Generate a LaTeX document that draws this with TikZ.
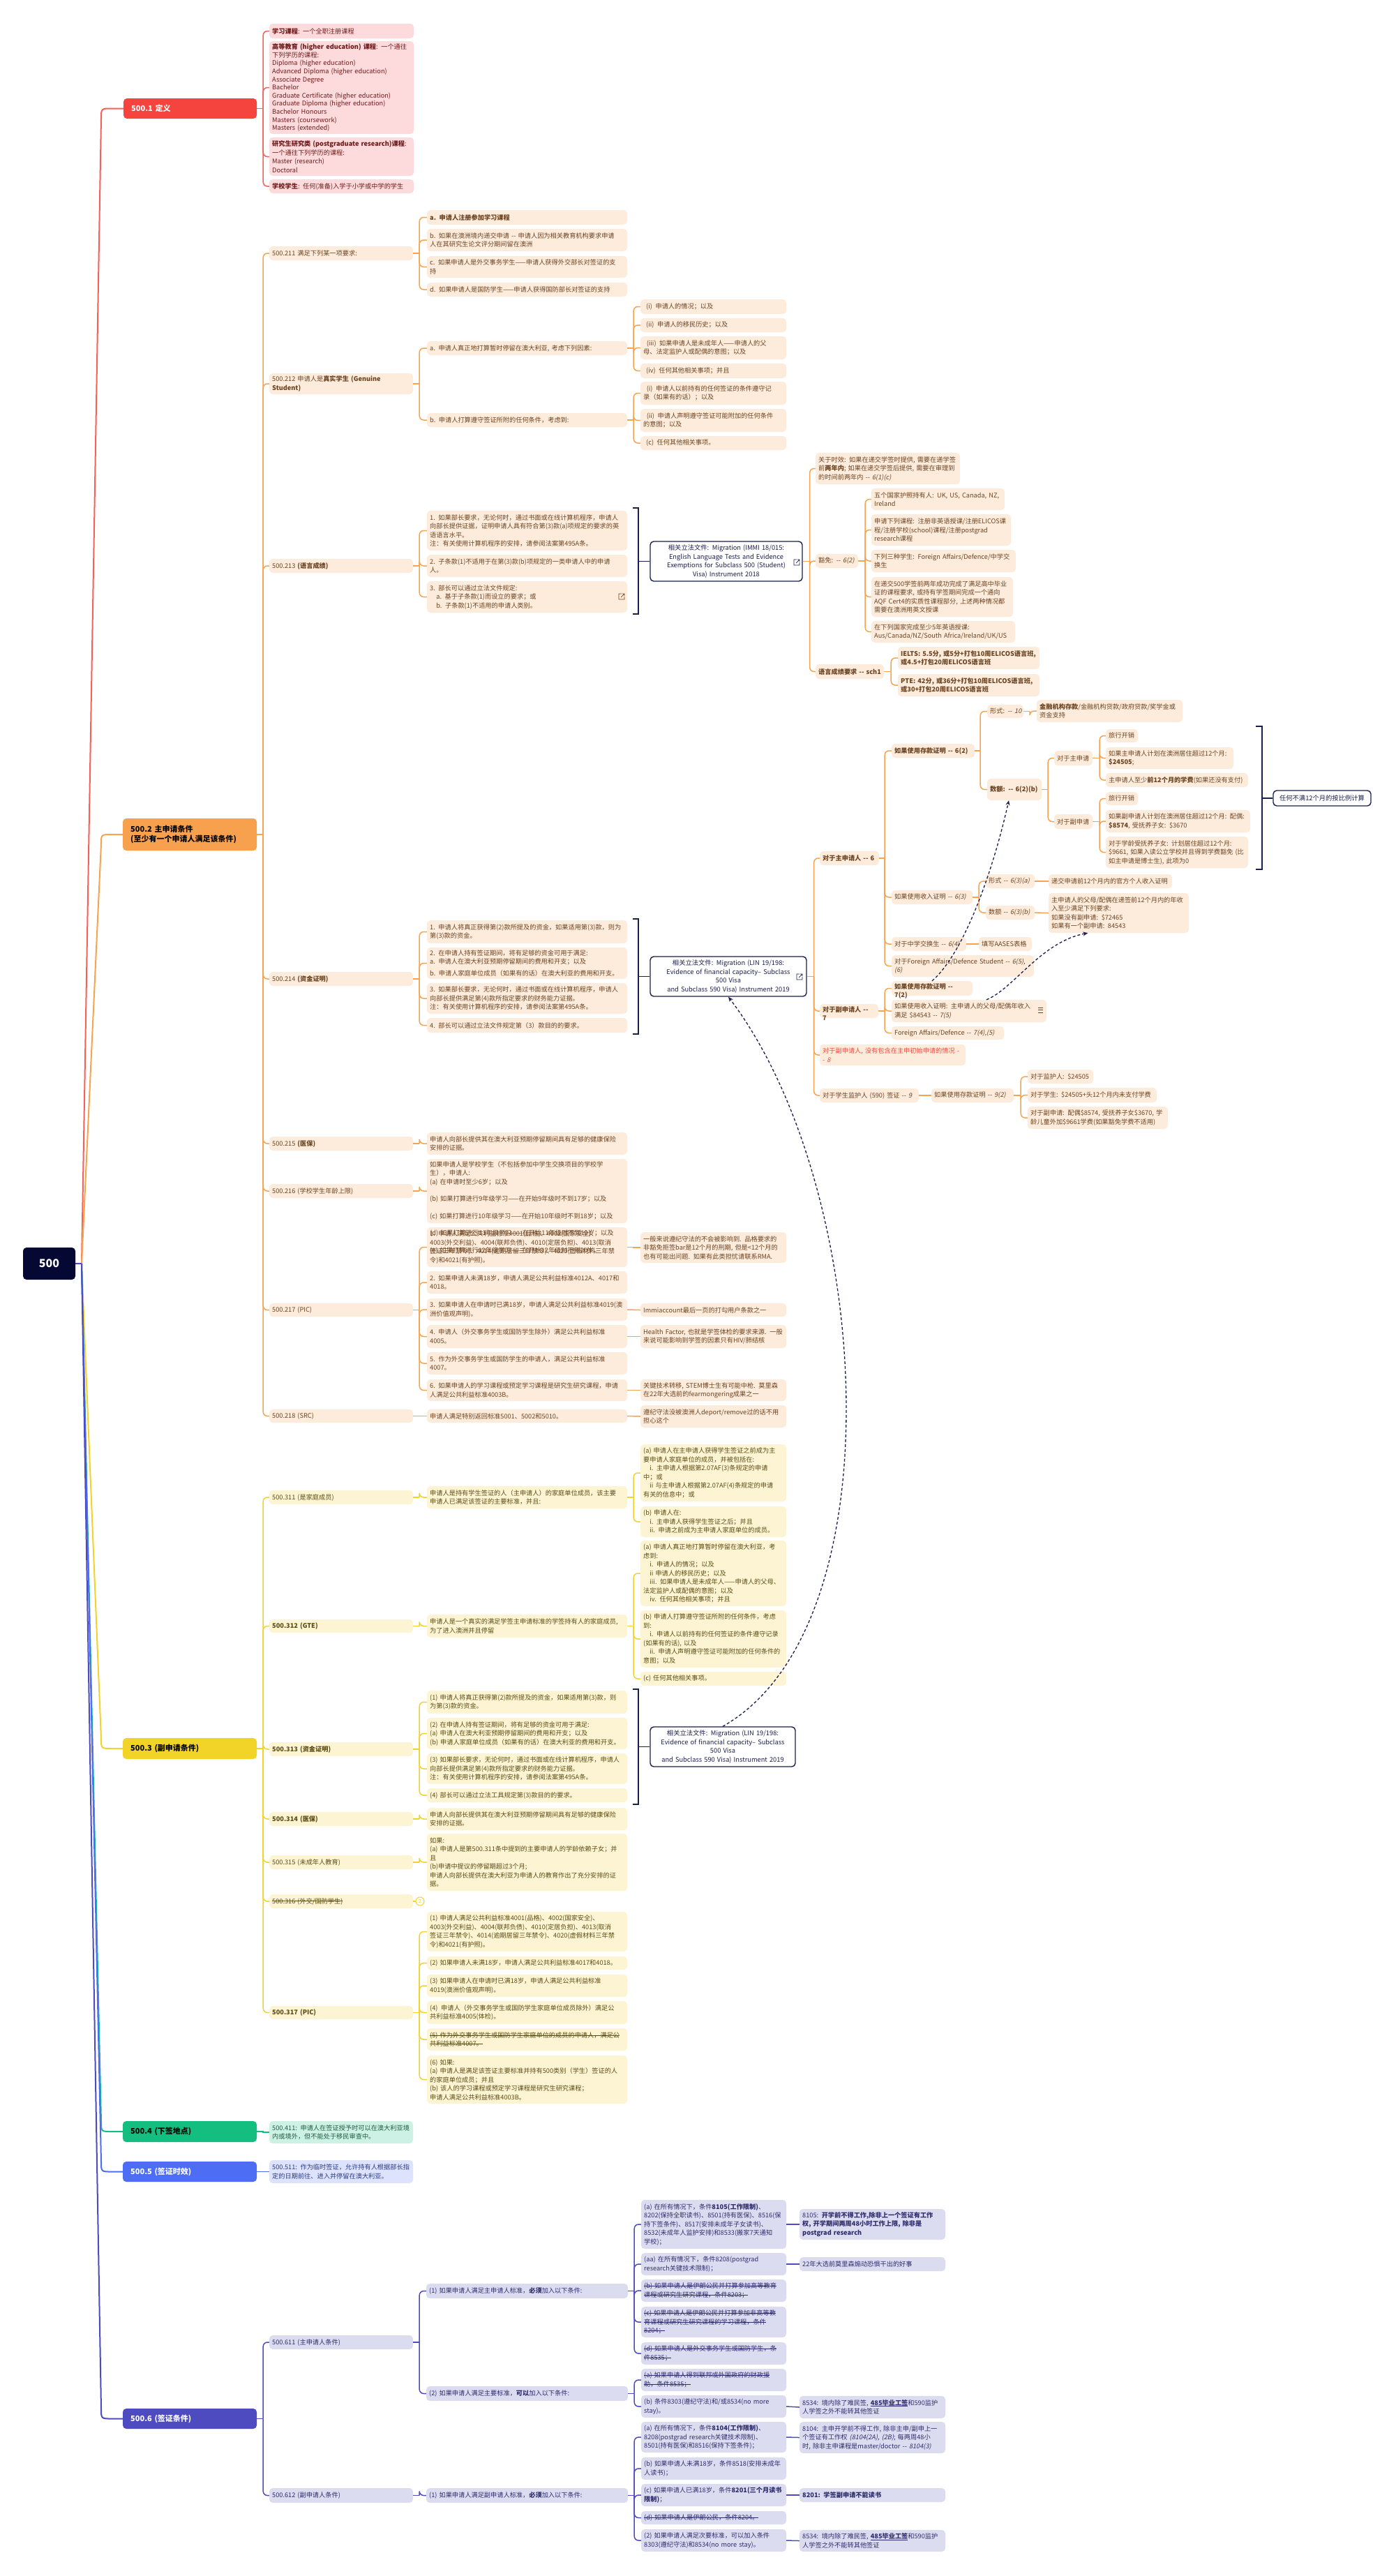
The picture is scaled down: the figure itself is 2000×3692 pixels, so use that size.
\documentclass[tikz,border=0pt]{standalone}
\usepackage{fontspec}
\setmainfont{Noto Sans CJK SC}[AutoFakeSlant=0.2]
\usetikzlibrary{calc,arrows.meta}
\definecolor{navyC}{HTML}{1B1F4A}
\definecolor{rootC}{HTML}{050833}
\definecolor{redM}{HTML}{F5433D}
\definecolor{redLn}{HTML}{F4605A}
\definecolor{redL}{HTML}{FDDADB}
\definecolor{redT}{HTML}{6E1B1B}
\definecolor{redTx}{HTML}{EE4A3E}
\definecolor{orM}{HTML}{F7A14E}
\definecolor{orLn}{HTML}{F7A450}
\definecolor{orL}{HTML}{FDEBDB}
\definecolor{orT}{HTML}{6B4422}
\definecolor{yeM}{HTML}{F2D328}
\definecolor{yeLn}{HTML}{F2D22E}
\definecolor{yeL}{HTML}{FCF4D2}
\definecolor{yeT}{HTML}{5C4C14}
\definecolor{grM}{HTML}{14BE80}
\definecolor{grL}{HTML}{CDF1E4}
\definecolor{grT}{HTML}{1F5B45}
\definecolor{blM}{HTML}{4D6DF5}
\definecolor{blL}{HTML}{DDE3FC}
\definecolor{blT}{HTML}{2C3B85}
\definecolor{inM}{HTML}{4E4ABF}
\definecolor{inL}{HTML}{DCDCF1}
\definecolor{inT}{HTML}{2E2C6C}
\newcommand\DD{-\kern0pt-}
\newcommand\stk[1]{\leavevmode\setbox0\hbox{#1}\rlap{\rule[0.33em]{\wd0}{0.6pt}}\box0}
\newcommand\unl[1]{\leavevmode\setbox0\hbox{#1}\rlap{\rule[-0.15em]{\wd0}{0.6pt}}\box0}
% box with text node overlaid (left aligned, vertically centred)
\newcommand\bx[8][4]{%
 \pgfmathsetmacro\Bw{#6-#4}\pgfmathsetmacro\Bh{#7-#5}%
 \pgfmathsetmacro\Bx{(#4+#6)/2}\pgfmathsetmacro\By{(#5+#7)/2}%
 \pgfmathsetmacro\Bl{#4+#1}%
 \node[#3, minimum width=\Bw pt, minimum height=\Bh pt] (#2) at (\Bx,\By) {};%
 \node[#3, fill=none, draw=none, anchor=west, text width=\Bw pt] (#2t) at (\Bl,\By) {#8};}
% box whose text starts at the top (may overflow)
\newcommand\bxo[7]{%
 \pgfmathsetmacro\Bw{#5-#3}\pgfmathsetmacro\Bh{#6-#4}%
 \pgfmathsetmacro\Bx{(#3+#5)/2}\pgfmathsetmacro\By{(#4+#6)/2}%
 \node[#2, minimum width=\Bw pt, minimum height=\Bh pt] (#1) at (\Bx,\By) {};%
 \node[#2, fill=none, draw=none, anchor=north west, text width=\Bw pt] (#1t) at (#3+4,#4+3) {#7};}
% centred box
\newcommand\cbx[7]{%
 \pgfmathsetmacro\Bw{#5-#3}\pgfmathsetmacro\Bh{#6-#4}%
 \pgfmathsetmacro\Bx{(#3+#5)/2}\pgfmathsetmacro\By{(#4+#6)/2}%
 \pgfmathsetmacro\Bt{#5-#3-6}%
 \node[#2, minimum width=\Bw pt, minimum height=\Bh pt, text width=\Bt pt] (#1) at (\Bx,\By) {#7};}
\newcommand\lk[4][lO]{\draw[#1] (#2.east) -- ++(#4,0);\draw[#1, rounded corners=6pt] ($(#2.east)+(#4,0)$) |- (#3.west);}
\newcommand\extic[3]{\draw[#3, line width=0.7pt] (#1+1,#2-4) -- (#1-3,#2-4) -- (#1-3,#2+4) -- (#1+5,#2+4) -- (#1+5,#2) (#1,#2+1) -- (#1+5,#2-4) (#1+2,#2-4) -- (#1+5,#2-4) -- (#1+5,#2-1);}
\tikzset{
 bxs/.style={rounded corners=5pt, inner sep=0pt, align=left, font=\fontsize{9.2}{12.5}\selectfont},
 nR/.style={bxs, fill=redL, text=redT},
 nO/.style={bxs, fill=orL, text=orT},
 nY/.style={bxs, fill=yeL, text=yeT},
 nG/.style={bxs, fill=grL, text=grT},
 nB/.style={bxs, fill=blL, text=blT},
 nI/.style={bxs, fill=inL, text=inT},
 mst/.style={rounded corners=5pt, inner sep=0pt, align=left, font=\fontsize{11}{13.5}\selectfont\bfseries},
 mR/.style={mst, fill=redM, text=white},
 mO/.style={mst, fill=orM, text=black},
 mY/.style={mst, fill=yeM, text=black},
 mG/.style={mst, fill=grM, text=black},
 mB/.style={mst, fill=blM, text=white},
 mI/.style={mst, fill=inM, text=white},
 rootst/.style={rounded corners=5pt, inner sep=0pt, align=center, fill=rootC, text=white, font=\fontsize{16}{16}\selectfont\bfseries},
 leg/.style={rounded corners=5pt, inner sep=0pt, align=center, draw=navyC, line width=1.4pt, fill=white, text=navyC, font=\fontsize{9.3}{12.8}\selectfont},
 ln/.style={line width=1.5pt},
 lR/.style={ln, draw=redLn}, lO/.style={ln, draw=orLn}, lY/.style={ln, draw=yeLn},
 lG/.style={ln, draw=grM}, lB/.style={ln, draw=blM}, lI/.style={ln, draw=inM},
 brk/.style={draw=navyC, line width=1.6pt},
 dsh/.style={draw=navyC, line width=1.3pt, dash pattern=on 4pt off 3pt, -{Stealth[length=7pt,width=6pt]}},
}
\begin{document}
\begin{tikzpicture}[x=1pt,y=-1pt]
\useasboundingbox (0,0) rectangle (2000,3692);
\fill[white] (0,0) rectangle (2000,3692);

% ---------------- root and main branches
\cbx{root}{rootst}{33}{1788}{108}{1834}{500}
\coordinate (hub) at (117,1811);
\bx[11]{m1}{mR}{177}{141}{368}{170}{500.1 定义}
\bx[11]{m2}{mO}{176}{1173}{368}{1219}{500.2 主申请条件\\(至少有一个申请人满足该条件)}
\bx[11]{m3}{mY}{176}{2491}{368}{2521}{500.3 (副申请条件)}
\bx[11]{m4}{mG}{176}{3040}{368}{3070}{500.4 (下签地点)}
\bx[11]{m5}{mB}{176}{3098}{368}{3127}{500.5 (签证时效)}
\bx[11]{m6}{mI}{176}{3452}{368}{3481}{500.6 (签证条件)}
\draw[lR, line width=2pt] (root.east) -- (hub) -- (145,170) .. controls (145,155.5) .. (160,155.5) -- (m1.west);
\draw[lO, line width=2pt] (hub) -- (145,1210) .. controls (145,1196) .. (160,1196) -- (m2.west);
\draw[lY, line width=2pt] (hub) -- (145,2492) .. controls (145,2506) .. (160,2506) -- (m3.west);
\draw[lG, line width=2pt] (hub) -- (145,3041) .. controls (145,3055) .. (160,3055) -- (m4.west);
\draw[lB, line width=2pt] (hub) -- (145,3098) .. controls (145,3112.5) .. (160,3112.5) -- (m5.west);
\draw[lI, line width=2pt] (hub) -- (145,3452) .. controls (145,3466.5) .. (160,3466.5) -- (m6.west);
\draw[lI, line width=2pt] (root.east) -- (hub);

% ---------------- 500.1
\bx{d1}{nR}{386}{34}{593}{55}{\textbf{学习课程}: 一个全职注册课程}
\bx{d2}{nR,font=\fontsize{9.2}{11.6}\selectfont}{386}{59}{593}{192}{\textbf{高等教育 (higher education) 课程}: 一个通往\\下列学历的课程:\\Diploma (higher education)\\Advanced Diploma (higher education)\\Associate Degree\\Bachelor\\Graduate Certificate (higher education)\\Graduate Diploma (higher education)\\Bachelor Honours\\Masters (coursework)\\Masters (extended)}
\bx{d3}{nR}{386}{197}{593}{252}{\textbf{研究生研究类 (postgraduate research)课程}:\\一个通往下列学历的课程:\\Master (research)\\Doctoral}
\bx{d4}{nR}{386}{257}{593}{277}{\textbf{学校学生}: 任何(准备)入学于小学或中学的学生}
\lk[lR]{m1}{d1}{9}\lk[lR]{m1}{d2}{9}\lk[lR]{m1}{d3}{9}\lk[lR]{m1}{d4}{9}

% ---------------- 500.2
\bx{s211}{nO}{386}{353}{592}{373}{500.211 满足下列某一项要求:}
\bx{s212}{nO}{386}{535}{592}{565}{500.212 申请人是\textbf{真实学生 (Genuine}\\\textbf{Student)}}
\bx{s213}{nO}{386}{801}{592}{821}{500.213 \textbf{(语言成绩)}}
\bx{s214}{nO}{386}{1393}{592}{1413}{500.214 \textbf{(资金证明)}}
\bx{s215}{nO}{386}{1629}{592}{1649}{500.215 \textbf{(医保)}}
\bx{s216}{nO}{386}{1697}{592}{1717}{500.216 (学校学生年龄上限)}
\bx{s217}{nO}{386}{1868}{592}{1887}{500.217 (PIC)}
\bx{s218}{nO}{386}{2020}{592}{2039}{500.218 (SRC)}
\lk{m2}{s211}{9}\lk{m2}{s212}{9}\lk{m2}{s213}{9}\lk{m2}{s214}{9}
\lk{m2}{s215}{9}\lk{m2}{s216}{9}\lk{m2}{s217}{9}\lk{m2}{s218}{9}

% 500.211
\bx{a211}{nO}{612}{301}{899}{322}{\textbf{a. 申请人注册参加学习课程}}
\bx{b211}{nO}{612}{328}{899}{360}{b. 如果在澳洲境内递交申请 \DD{} 申请人因为相关教育机构要求申请\\人在其研究生论文评分期间留在澳洲}
\bx{c211}{nO}{612}{367}{899}{398}{c. 如果申请人是外交事务学生——申请人获得外交部长对签证的支\\持}
\bx{d211}{nO}{612}{405}{899}{425}{d. 如果申请人是国防学生——申请人获得国防部长对签证的支持}
\lk{s211}{a211}{9}\lk{s211}{b211}{9}\lk{s211}{c211}{9}\lk{s211}{d211}{9}

% 500.212
\bx{a212}{nO}{612}{489}{899}{509}{a. 申请人真正地打算暂时停留在澳大利亚, 考虑下列因素:}
\bx{b212}{nO}{612}{592}{899}{612}{b. 申请人打算遵守签证所附的任何条件，考虑到:}
\lk{s212}{a212}{9}\lk{s212}{b212}{9}
\bx[8]{ai}{nO}{918}{429}{1127}{450}{(i)\enspace 申请人的情况；以及}
\bx[8]{aii}{nO}{918}{456}{1127}{476}{(ii)\enspace 申请人的移民历史；以及}
\bx{aiii}{nO}{918}{482}{1127}{515}{\enspace(iii)\enspace 如果申请人是未成年人——申请人的父\\母、法定监护人或配偶的意图；以及}
\bx[8]{aiv}{nO}{918}{521}{1127}{542}{(iv)\enspace 任何其他相关事项；并且}
\bx{bi}{nO}{918}{547}{1127}{580}{\enspace(i)\enspace 申请人以前持有的任何签证的条件遵守记\\录（如果有的话）；以及}
\bx{bii}{nO}{918}{586}{1127}{619}{\enspace(ii)\enspace 申请人声明遵守签证可能附加的任何条件\\的意图；以及}
\bx[8]{bc}{nO}{918}{625}{1127}{645}{(c)\enspace 任何其他相关事项。}
\lk{a212}{ai}{9}\lk{a212}{aii}{9}\lk{a212}{aiii}{9}\lk{a212}{aiv}{9}
\lk{b212}{bi}{9}\lk{b212}{bii}{9}\lk{b212}{bc}{9}

% 500.213
\bx{t1}{nO}{612}{732}{899}{789}{1. 如果部长要求，无论何时，通过书面或在线计算机程序，申请人\\向部长提供证据，证明申请人具有符合第(3)款(a)项规定的要求的英\\语语言水平。\\注：有关使用计算机程序的安排，请参阅法案第495A条。}
\bx{t2}{nO}{612}{795}{899}{827}{2. 子条款(1)不适用于在第(3)款(b)项规定的一类申请人中的申请\\人。}
\bx{t3}{nO}{612}{833}{899}{878}{3. 部长可以通过立法文件规定:\\\hspace*{1em}a. 基于子条款(1)而设立的要求；或\\\hspace*{1em}b. 子条款(1)不适用的申请人类别。}
\extic{890}{855}{orT}
\lk{s213}{t1}{9}\lk{s213}{t2}{9}\lk{s213}{t3}{9}
\draw[brk] (907,728) -- (915,728) -- (915,880) -- (907,880);
\coordinate (bk1) at (915,804.5);
\cbx{leg1}{leg}{932}{776}{1150}{833}{相关立法文件: Migration (IMMI 18/015:\\English Language Tests and Evidence\\Exemptions for Subclass 500 (Student)\\Visa) Instrument 2018}
\extic{1141}{806}{navyC}
\draw[brk] (bk1) -- (leg1.west);
\bx{L1}{nO}{1169}{649}{1376}{694}{关于时效: 如果在递交学签时提供, 需要在递学签\\前\textbf{两年内}; 如果在递交学签后提供, 需要在审理到\\的时间前两年内 \DD{} \textit{6(1)(c)}}
\bx{L2}{nO}{1169}{794}{1230}{814}{豁免: \DD{} \textit{6(2)}}
\bx{L3}{nO}{1169}{952}{1267}{973}{\textbf{语言成绩要求 \DD{} \textit{sch1}}}
\lk{leg1}{L1}{10}\lk{leg1}{L2}{10}\lk{leg1}{L3}{10}
\bx{e1}{nO}{1249}{700}{1440}{731}{五个国家护照持有人: UK, US, Canada, NZ,\\Ireland}
\bx{e2}{nO}{1249}{737}{1449}{782}{申请下列课程: 注册非英语授课/注册ELICOS课\\程/注册学校(school)课程/注册postgrad\\research课程}
\bx{e3}{nO}{1249}{788}{1456}{820}{下列三种学生: Foreign Affairs/Defence/中学交\\换生}
\bx{e4}{nO}{1249}{827}{1452}{884}{在递交500学签前两年成功完成了满足高中毕业\\证的课程要求, 或持有学签期间完成一个通向\\AQF Cert4的实质性课程部分, 上述两种情况都\\需要在澳洲用英文授课}
\bx{e5}{nO}{1249}{890}{1455}{921}{在下列国家完成至少5年英语授课:\\Aus/Canada/NZ/South Africa/Ireland/UK/US}
\lk{L2}{e1}{10}\lk{L2}{e2}{10}\lk{L2}{e3}{10}\lk{L2}{e4}{10}\lk{L2}{e5}{10}
\bx{i1}{nO}{1287}{927}{1490}{959}{\textbf{IELTS: 5.5分, 或5分+打包10周ELICOS语言班,}\\\textbf{或4.5+打包20周ELICOS语言班}}
\bx{i2}{nO}{1287}{966}{1490}{998}{\textbf{PTE: 42分, 或36分+打包10周ELICOS语言班,}\\\textbf{或30+打包20周ELICOS语言班}}
\lk{L3}{i1}{10}\lk{L3}{i2}{10}

% 500.214
\bx{f1}{nO}{612}{1319}{899}{1352}{1. 申请人将真正获得第(2)款所提及的资金，如果适用第(3)款，则为\\第(3)款的资金。}
\bxo{f2}{nO}{612}{1358}{899}{1403}{2. 在申请人持有签证期间，将有足够的资金可用于满足:\\a. 申请人在澳大利亚预期停留期间的费用和开支；以及\\[4pt]b. 申请人家庭单位成员（如果有的话）在澳大利亚的费用和开支。}
\bx{f3}{nO}{612}{1409}{899}{1453}{3. 如果部长要求，无论何时，通过书面或在线计算机程序，申请人\\向部长提供满足第(4)款所指定要求的财务能力证据。\\注：有关使用计算机程序的安排，请参阅法案第495A条。}
\bx{f4}{nO}{612}{1459}{899}{1480}{4. 部长可以通过立法文件规定第（3）款目的的要求。}
\lk{s214}{f1}{9}\lk{s214}{f2}{9}\lk{s214}{f3}{9}\lk{s214}{f4}{9}
\draw[brk] (907,1317) -- (915,1317) -- (915,1482) -- (907,1482);
\coordinate (bk2) at (915,1399.5);
\cbx{leg2}{leg}{932}{1371}{1156}{1428}{相关立法文件: Migration (LIN 19/198:\\Evidence of financial capacity– Subclass\\500 Visa\\and Subclass 590 Visa) Instrument 2019}
\extic{1145}{1400}{navyC}
\draw[brk] (bk2) -- (leg2.west);

% financial capacity subtree
\bx{F1}{nO}{1175}{1220}{1260}{1240}{\textbf{对于主申请人 \DD{} \textit{6}}}
\bxo{F2}{nO}{1175}{1439}{1259}{1459}{\textbf{对于副申请人 \DD}\\\textbf{\textit{7}}}
\bx{F3}{nO,text=redTx}{1175}{1497}{1384}{1527}{对于副申请人, 没有包含在主申初始申请的情况 -\\- \textit{8}}
\bx{F4}{nO}{1175}{1560}{1317}{1580}{对于学生监护人 (590) 签证 \DD{} \textit{9}}
\lk{leg2}{F1}{10}\lk{leg2}{F2}{10}\lk{leg2}{F3}{10}\lk{leg2}{F4}{10}
\bx{F11}{nO}{1278}{1066}{1397}{1086}{\textbf{如果使用存款证明 \DD{} \textit{6(2)}}}
\bx{F12}{nO}{1278}{1276}{1394}{1296}{如果使用收入证明 \DD{} \textit{6(3)}}
\bx{F13}{nO}{1278}{1343}{1385}{1363}{对于中学交换生 \DD{} \textit{6(4)}}
\bx{F14}{nO}{1278}{1369}{1482}{1400}{对于Foreign Affairs/Defence Student \DD{} \textit{6(5),}\\\textit{(6)}}
\lk{F1}{F11}{8}\lk{F1}{F12}{8}\lk{F1}{F13}{8}\lk{F1}{F14}{8}
\bx{F111}{nO}{1415}{1010}{1467}{1029}{形式: \DD{} \textit{10}}
\bx{F112}{nO}{1415}{1116}{1493}{1147}{\textbf{数额: \DD{} 6(2)(b)}}
\lk{F11}{F111}{8}\lk{F11}{F112}{8}
\bx{F1111}{nO}{1486}{1003}{1695}{1035}{\textbf{金融机构存款}/金融机构贷款/政府贷款/奖学金或\\资金支持}
\lk{F111}{F1111}{9}
\bx{F1121}{nO}{1511}{1076}{1566}{1097}{对于主申请}
\bx{F1122}{nO}{1511}{1167}{1566}{1188}{对于副申请}
\lk{F112}{F1121}{9}\lk{F112}{F1122}{9}
\bx{G1}{nO}{1585}{1045}{1631}{1064}{旅行开销}
\bx{G2}{nO}{1585}{1071}{1768}{1102}{如果主申请人计划在澳洲居住超过12个月:\\\textbf{\$24505};}
\bx{G3}{nO}{1585}{1108}{1789}{1128}{主申请人至少\textbf{前12个月的学费}(如果还没有支付)}
\lk{F1121}{G1}{10}\lk{F1121}{G2}{10}\lk{F1121}{G3}{10}
\bx{G4}{nO}{1585}{1135}{1631}{1154}{旅行开销}
\bx{G5}{nO}{1585}{1161}{1792}{1193}{如果副申请人计划在澳洲居住超过12个月: 配偶:\\\textbf{\$8574}, 受抚养子女: \$3670}
\bx{G6}{nO}{1585}{1199}{1789}{1244}{对于学龄受抚养子女: 计划居住超过12个月:\\\$9661, 如果入读公立学校并且得到学费豁免 (比\\如主申请是博士生), 此项为0}
\lk{F1122}{G4}{10}\lk{F1122}{G5}{10}\lk{F1122}{G6}{10}
\draw[brk] (1800,1041) -- (1809,1041) -- (1809,1246) -- (1800,1246);
\coordinate (bk4) at (1809,1144);
\cbx{Fn}{leg}{1825}{1133}{1965}{1155}{任何不满12个月的按比例计算}
\draw[brk] (bk4) -- (Fn.west);
\bx{F121}{nO}{1413}{1253}{1483}{1273}{形式 \DD{} \textit{6(3)(a)}}
\bx{F122}{nO}{1413}{1298}{1483}{1318}{数额 \DD{} \textit{6(3)(b)}}
\lk{F12}{F121}{9}\lk{F12}{F122}{9}
\bx{F1211}{nO}{1503}{1253}{1680}{1273}{递交申请前12个月内的官方个人收入证明}
\bx{F1221}{nO}{1503}{1280}{1704}{1337}{主申请人的父母/配偶在递签前12个月内的年收\\入至少满足下列要求:\\如果没有副申请: \$72465\\如果有一个副申请: 84543}
\draw[lO] (F121.east) -- (F1211.west);
\draw[lO] (F122.east) -- (F1221.west);
\bx{F131}{nO}{1403}{1343}{1479}{1363}{填写AASES表格}
\draw[lO] (F13.east) -- (F131.west);
\bxo{F2a}{nO}{1278}{1406}{1394}{1427}{\textbf{如果使用存款证明 \DD}\\\textbf{\textit{7(2)}}}
\bx{F2b}{nO}{1278}{1433}{1500}{1465}{如果使用收入证明: 主申请人的父母/配偶年收入\\满足 \$84543 \DD{} \textit{7(5)}}
\bx{F2c}{nO}{1278}{1471}{1439}{1490}{Foreign Affairs/Defence \DD{} \textit{7(4),(5)}}
\lk{F2}{F2a}{9}\lk{F2}{F2b}{9}\lk{F2}{F2c}{9}
\draw[orT, line width=0.8pt] (1488,1444) -- (1495,1444) (1488,1447.5) -- (1495,1447.5) (1488,1451) -- (1495,1451);
\bx{F41}{nO}{1335}{1560}{1453}{1580}{如果使用存款证明 \DD{} \textit{9(2)}}
\draw[lO] (F4.east) -- (F41.west);
\bx{H1}{nO}{1473}{1533}{1567}{1553}{对于监护人: \$24505}
\bx{H2}{nO}{1473}{1559}{1658}{1580}{对于学生: \$24505+头12个月内未支付学费}
\bx{H3}{nO}{1473}{1586}{1674}{1618}{对于副申请: 配偶\$8574, 受抚养子女\$3670, 学\\龄儿童外加\$9661学费(如果豁免学费不适用)}
\lk{F41}{H1}{10}\lk{F41}{H2}{10}\lk{F41}{H3}{10}
\draw[dsh] (F2a.north) .. controls (1378,1370) and (1420,1262) .. (F112.243);
\draw[dsh] (F2b.33) .. controls (1452,1418) and (1492,1350) .. (F1221.213);

% 500.215 - 218
\bx{h215}{nO}{612}{1623}{899}{1655}{申请人向部长提供其在澳大利亚预期停留期间具有足够的健康保险\\安排的证据。}
\lk{s215}{h215}{9}
\bx{p1}{nO}{612}{1759}{899}{1816}{1. 申请人满足公共利益标准4001(品格)、4002(国家安全)、\\4003(外交利益)、4004(联邦负债)、4010(定居负担)、4013(取消\\签证三年禁令)、4014(逾期居留三年禁令)、4020(虚假材料三年禁\\令)和4021(有护照)。}
\bx{p2}{nO}{612}{1822}{899}{1854}{2. 如果申请人未满18岁，申请人满足公共利益标准4012A、4017和\\4018。}
\bx{p3}{nO}{612}{1861}{899}{1893}{3. 如果申请人在申请时已满18岁，申请人满足公共利益标准4019(澳\\洲价值观声明)。}
\bx{p4}{nO}{612}{1899}{899}{1932}{4. 申请人（外交事务学生或国防学生除外）满足公共利益标准\\4005。}
\bx{p5}{nO}{612}{1938}{899}{1970}{5. 作为外交事务学生或国防学生的申请人，满足公共利益标准\\4007。}
\bx{p6}{nO}{612}{1977}{899}{2008}{6. 如果申请人的学习课程或预定学习课程是研究生研究课程，申请\\人满足公共利益标准4003B。}
\lk{s217}{p1}{9}\lk{s217}{p2}{9}\lk{s217}{p3}{9}\lk{s217}{p4}{9}\lk{s217}{p5}{9}\lk{s217}{p6}{9}
\bxo{g216}{nO}{612}{1661}{899}{1753}{如果申请人是学校学生（不包括参加中学生交换项目的学校学\\生），申请人:\\(a) 在申请时至少6岁；以及\\[12pt](b) 如果打算进行9年级学习——在开始9年级时不到17岁；以及\\[12pt](c) 如果打算进行10年级学习——在开始10年级时不到18岁；以及\\[12pt](d) 如果打算进行11年级学习——在开始11年级时不到19岁；以及\\[12pt](e) 如果打算进行12年级学习——在开始12年级时不到20岁。}
\lk{s216}{g216}{9}
\bx{q1}{nO}{918}{1766}{1127}{1810}{一般来说遵纪守法的不会被影响到. 品格要求的\\非豁免拒签bar是12个月的刑期, 但是<12个月的\\也有可能出问题. 如果有此类担忧请联系RMA.}
\bx{q3}{nO}{918}{1868}{1127}{1887}{Immiaccount最后一页的打勾用户条款之一}
\bx{q4}{nO}{918}{1899}{1127}{1932}{Health Factor, 也就是学签体检的要求来源. 一般\\来说可能影响到学签的因素只有HIV/肺结核}
\bx{q6}{nO}{918}{1977}{1127}{2008}{关键技术转移, STEM博士生有可能中枪. 莫里森\\在22年大选前的fearmongering成果之一}
\draw[lO] (p1.east) -- ++(9,0) |- (q1.west);
\draw[lO] (p3.east) -- (q3.west);
\draw[lO] (p4.east) -- (q4.west);
\draw[lO] (p6.east) -- (q6.west);
\bx{r218}{nO}{612}{2020}{899}{2039}{申请人满足特别返回标准5001、5002和5010。}
\bx{r218n}{nO}{918}{2014}{1127}{2046}{遵纪守法没被澳洲人deport/remove过的话不用\\担心这个}
\draw[lO] (s218.east) -- (r218.west);
\draw[lO] (r218.east) -- (r218n.west);

% ---------------- 500.3
\bx{y311}{nY}{386}{2136}{592}{2156}{500.311 (是家庭成员)}
\bx{y312}{nY}{386}{2321}{592}{2340}{\textbf{500.312 (GTE)}}
\bx{y313}{nY}{386}{2497}{592}{2517}{\textbf{500.313 (资金证明)}}
\bx{y314}{nY}{386}{2597}{592}{2617}{\textbf{500.314 (医保)}}
\bx{y315}{nY}{386}{2659}{592}{2679}{500.315 (未成年人教育)}
\bx{y316}{nY}{386}{2715}{592}{2735}{\stk{500.316 (外交/国防学生)}}
\bx{y317}{nY}{386}{2875}{592}{2894}{\textbf{500.317 (PIC)}}
\lk[lY]{m3}{y311}{9}\lk[lY]{m3}{y312}{9}\lk[lY]{m3}{y313}{9}\lk[lY]{m3}{y314}{9}
\lk[lY]{m3}{y315}{9}\lk[lY]{m3}{y316}{9}\lk[lY]{m3}{y317}{9}
\node[circle, draw=yeLn, fill=white, line width=1pt, inner sep=0pt, minimum size=12pt, font=\fontsize{7}{7}\selectfont, text=yeLn] (c316) at (602,2725) {2};
\draw[lY] (y316.east) -- (c316.west);

\bx{y311c}{nY}{612}{2130}{899}{2162}{申请人是持有学生签证的人（主申请人）的家庭单位成员，该主要\\申请人已满足该签证的主要标准，并且:}
\lk[lY]{y311}{y311c}{9}
\bx{y311a}{nY}{918}{2070}{1127}{2152}{(a) 申请人在主申请人获得学生签证之前成为主\\要申请人家庭单位的成员，并被包括在:\\\hspace*{1em}i. 主申请人根据第2.07AF(3)条规定的申请\\中；或\\\hspace*{1em}ii 与主申请人根据第2.07AF(4)条规定的申请\\有关的信息中；或}
\bx{y311b}{nY}{918}{2159}{1127}{2203}{(b) 申请人在:\\\hspace*{1em}i. 主申请人获得学生签证之后；并且\\\hspace*{1em}ii. 申请之前成为主申请人家庭单位的成员。}
\lk[lY]{y311c}{y311a}{9}\lk[lY]{y311c}{y311b}{9}
\bx{y312c}{nY}{612}{2314}{899}{2347}{申请人是一个真实的满足学签主申请标准的学签持有人的家庭成员,\\为了进入澳洲并且停留}
\lk[lY]{y312}{y312c}{9}
\bx{y312a}{nY}{918}{2208}{1127}{2302}{(a) 申请人真正地打算暂时停留在澳大利亚，考\\虑到:\\\hspace*{1em}i. 申请人的情况；以及\\\hspace*{1em}ii 申请人的移民历史；以及\\\hspace*{1em}iii. 如果申请人是未成年人——申请人的父母、\\法定监护人或配偶的意图；以及\\\hspace*{1em}iv. 任何其他相关事项；并且}
\bx{y312b}{nY}{918}{2308}{1127}{2390}{(b) 申请人打算遵守签证所附的任何条件，考虑\\到:\\\hspace*{1em}i.\enspace 申请人以前持有的任何签证的条件遵守记录\\(如果有的话), 以及\\\hspace*{1em}ii. 申请人声明遵守签证可能附加的任何条件的\\意图；以及}
\bx{y312cc}{nY}{918}{2396}{1127}{2416}{(c) 任何其他相关事项。}
\lk[lY]{y312c}{y312a}{9}\lk[lY]{y312c}{y312b}{9}\lk[lY]{y312c}{y312cc}{9}

\bx{y313a}{nY}{612}{2423}{899}{2456}{(1) 申请人将真正获得第(2)款所提及的资金，如果适用第(3)款，则\\为第(3)款的资金。}
\bx{y313b}{nY}{612}{2462}{899}{2507}{(2) 在申请人持有签证期间，将有足够的资金可用于满足:\\(a) 申请人在澳大利亚预期停留期间的费用和开支；以及\\(b) 申请人家庭单位成员（如果有的话）在澳大利亚的费用和开支。}
\bx{y313c}{nY}{612}{2513}{899}{2557}{(3) 如果部长要求，无论何时，通过书面或在线计算机程序，申请人\\向部长提供满足第(4)款所指定要求的财务能力证据。\\注：有关使用计算机程序的安排，请参阅法案第495A条。}
\bx{y313d}{nY}{612}{2563}{899}{2583}{(4) 部长可以通过立法工具规定第(3)款目的的要求。}
\lk[lY]{y313}{y313a}{9}\lk[lY]{y313}{y313b}{9}\lk[lY]{y313}{y313c}{9}\lk[lY]{y313}{y313d}{9}
\draw[brk] (907,2421) -- (915,2421) -- (915,2586) -- (907,2586);
\coordinate (bk3) at (915,2503.5);
\cbx{leg3}{leg}{932}{2475}{1140}{2532}{相关立法文件: Migration (LIN 19/198:\\Evidence of financial capacity– Subclass\\500 Visa\\and Subclass 590 Visa) Instrument 2019}
\draw[brk] (bk3) -- (leg3.west);
\draw[dsh] (leg3.north) .. controls (1290,2330) and (1250,1700) .. (leg2.south);

\bx{y314c}{nY}{612}{2591}{899}{2623}{申请人向部长提供其在澳大利亚预期停留期间具有足够的健康保险\\安排的证据。}
\lk[lY]{y314}{y314c}{9}
\bx{y315c}{nY}{612}{2628}{899}{2710}{如果:\\(a) 申请人是第500.311条中提到的主要申请人的学龄依赖子女；并\\且\\(b)申请中提议的停留期超过3个月;\\申请人向部长提供在澳大利亚为申请人的教育作出了充分安排的证\\据。}
\lk[lY]{y315}{y315c}{9}
\bx{y317a}{nY}{612}{2740}{899}{2797}{(1) 申请人满足公共利益标准4001(品格)、4002(国家安全)、\\4003(外交利益)、4004(联邦负债)、4010(定居负担)、4013(取消\\签证三年禁令)、4014(逾期居留三年禁令)、4020(虚假材料三年禁\\令)和4021(有护照)。}
\bx{y317b}{nY}{612}{2804}{899}{2823}{(2) 如果申请人未满18岁，申请人满足公共利益标准4017和4018。}
\bx{y317c}{nY}{612}{2830}{899}{2862}{(3) 如果申请人在申请时已满18岁，申请人满足公共利益标准\\4019(澳洲价值观声明)。}
\bx{y317d}{nY}{612}{2868}{899}{2901}{(4)\enspace 申请人（外交事务学生或国防学生家庭单位成员除外）满足公\\共利益标准4005(体检)。}
\bx{y317e}{nY}{612}{2907}{899}{2939}{\stk{(5) 作为外交事务学生或国防学生家庭单位的成员的申请人，满足公}\\\stk{共利益标准4007。}}
\bx{y317f}{nY}{612}{2946}{899}{3015}{(6) 如果:\\(a) 申请人是满足该签证主要标准并持有500类别（学生）签证的人\\的家庭单位成员；并且\\(b) 该人的学习课程或预定学习课程是研究生研究课程；\\申请人满足公共利益标准4003B。}
\lk[lY]{y317}{y317a}{9}\lk[lY]{y317}{y317b}{9}\lk[lY]{y317}{y317c}{9}
\lk[lY]{y317}{y317d}{9}\lk[lY]{y317}{y317e}{9}\lk[lY]{y317}{y317f}{9}

% ---------------- 500.4 / 500.5
\bx{g411}{nG}{386}{3040}{592}{3072}{500.411: 申请人在签证授予时可以在澳大利亚境\\内或境外，但不能处于移民审查中。}
\draw[lG] (m4.east) -- ++(9,0) |- (g411.west);
\bx{b511}{nB}{386}{3096}{592}{3129}{500.511: 作为临时签证，允许持有人根据部长指\\定的日期前往、进入并停留在澳大利亚。}
\draw[lB] (m5.east) -- (b511.west);

% ---------------- 500.6
\bx{i611}{nI}{386}{3347}{592}{3367}{500.611 (主申请人条件)}
\bx{i612}{nI}{386}{3566}{592}{3587}{500.612 (副申请人条件)}
\lk[lI]{m6}{i611}{9}\lk[lI]{m6}{i612}{9}
\bx{j1}{nI}{611}{3273}{900}{3294}{(1) 如果申请人满足主申请人标准，\textbf{必须}加入以下条件:}
\bx{j2}{nI}{611}{3420}{900}{3441}{(2) 如果申请人满足主要标准，\textbf{可以}加入以下条件:}
\bx{j3}{nI}{611}{3566}{900}{3587}{(1) 如果申请人满足副申请人标准，\textbf{必须}加入以下条件:}
\lk[lI]{i611}{j1}{9}\lk[lI]{i611}{j2}{9}\lk[lI]{i612}{j3}{9}
\bx{k1}{nI}{919}{3153}{1127}{3223}{(a) 在所有情况下，条件\textbf{8105(工作限制)}、\\8202(保持全职读书)、8501(持有医保)、8516(保\\持下签条件)、8517(安排未成年子女读书)、\\8532(未成年人监护安排)和8533(搬家7天通知\\学校)；}
\bx{k2}{nI}{919}{3229}{1127}{3261}{(aa) 在所有情况下，条件8208(postgrad\\research关键技术限制)；}
\bx{k3}{nI}{919}{3267}{1127}{3299}{\stk{(b) 如果申请人是伊朗公民并打算参加高等教育}\\\stk{课程或研究生研究课程，条件8203；}}
\bx{k4}{nI}{919}{3306}{1127}{3350}{\stk{(c) 如果申请人是伊朗公民并打算参加非高等教}\\\stk{育课程或研究生研究课程的学习课程，条件}\\\stk{8204；}}
\bx{k5}{nI}{919}{3357}{1127}{3389}{\stk{(d) 如果申请人是外交事务学生或国防学生，条}\\\stk{件8535；}}
\lk[lI]{j1}{k1}{9}\lk[lI]{j1}{k2}{9}\lk[lI]{j1}{k3}{9}\lk[lI]{j1}{k4}{9}\lk[lI]{j1}{k5}{9}
\bx{k6}{nI}{919}{3395}{1127}{3427}{\stk{(a) 如果申请人得到联邦或外国政府的财政援}\\\stk{助，条件8535；}}
\bx{k7}{nI}{919}{3433}{1127}{3465}{(b) 条件8303(遵纪守法)和/或8534(no more\\stay)。}
\lk[lI]{j2}{k6}{9}\lk[lI]{j2}{k7}{9}
\bx{k8}{nI}{919}{3471}{1127}{3515}{(a) 在所有情况下，条件\textbf{8104(工作限制)}、\\8208(postgrad research关键技术限制)、\\8501(持有医保)和8516(保持下签条件)；}
\bx{k9}{nI}{919}{3522}{1127}{3554}{(b) 如果申请人未满18岁，条件8518(安排未成年\\人读书)；}
\bx{k10}{nI}{919}{3560}{1127}{3592}{(c) 如果申请人已满18岁，条件\textbf{8201(三个月读书}\\\textbf{限制)}；}
\bx{k11}{nI}{919}{3599}{1127}{3618}{\stk{(d) 如果申请人是伊朗公民，条件8204。}}
\bx{k12}{nI}{919}{3625}{1127}{3657}{(2) 如果申请人满足次要标准，可以加入条件\\8303(遵纪守法)和8534(no more stay)。}
\lk[lI]{j3}{k8}{9}\lk[lI]{j3}{k9}{9}\lk[lI]{j3}{k10}{9}\lk[lI]{j3}{k11}{9}\lk[lI]{j3}{k12}{9}
\bx{n1}{nI}{1146}{3166}{1355}{3210}{8105: \textbf{开学前不得工作,除非上一个签证有工作}\\\textbf{权, 开学期间两周48小时工作上限, 除非是}\\\textbf{postgrad research}}
\bx{n2}{nI}{1146}{3235}{1355}{3255}{22年大选前莫里森煽动恐惧干出的好事}
\bx{n3}{nI}{1146}{3434}{1355}{3466}{8534: 境内除了难民签, \unl{\textbf{485毕业工签}}和590监护\\人学签之外不能转其他签证}
\bx{n4}{nI}{1146}{3471}{1355}{3516}{8104: 主申开学前不得工作, 除非主申/副申上一\\个签证有工作权 \textit{(8104(2A), (2B)}; 每两周48小\\时, 除非主申课程是master/doctor \DD{} \textit{8104(3)}}
\bx{n5}{nI}{1146}{3566}{1355}{3586}{\textbf{8201: 学签副申请不能读书}}
\bx{n6}{nI}{1146}{3626}{1355}{3657}{8534: 境内除了难民签, \unl{\textbf{485毕业工签}}和590监护\\人学签之外不能转其他签证}
\draw[lI] (k1.east) -- ++(9,0) |- (n1.west);
\draw[lI] (k2.east) -- ++(9,0) |- (n2.west);
\draw[lI] (k7.east) -- (n3.west);
\draw[lI] (k8.east) -- (n4.west);
\draw[lI] (k10.east) -- (n5.west);
\draw[lI] (k12.east) -- (n6.west);
\end{tikzpicture}
\end{document}
